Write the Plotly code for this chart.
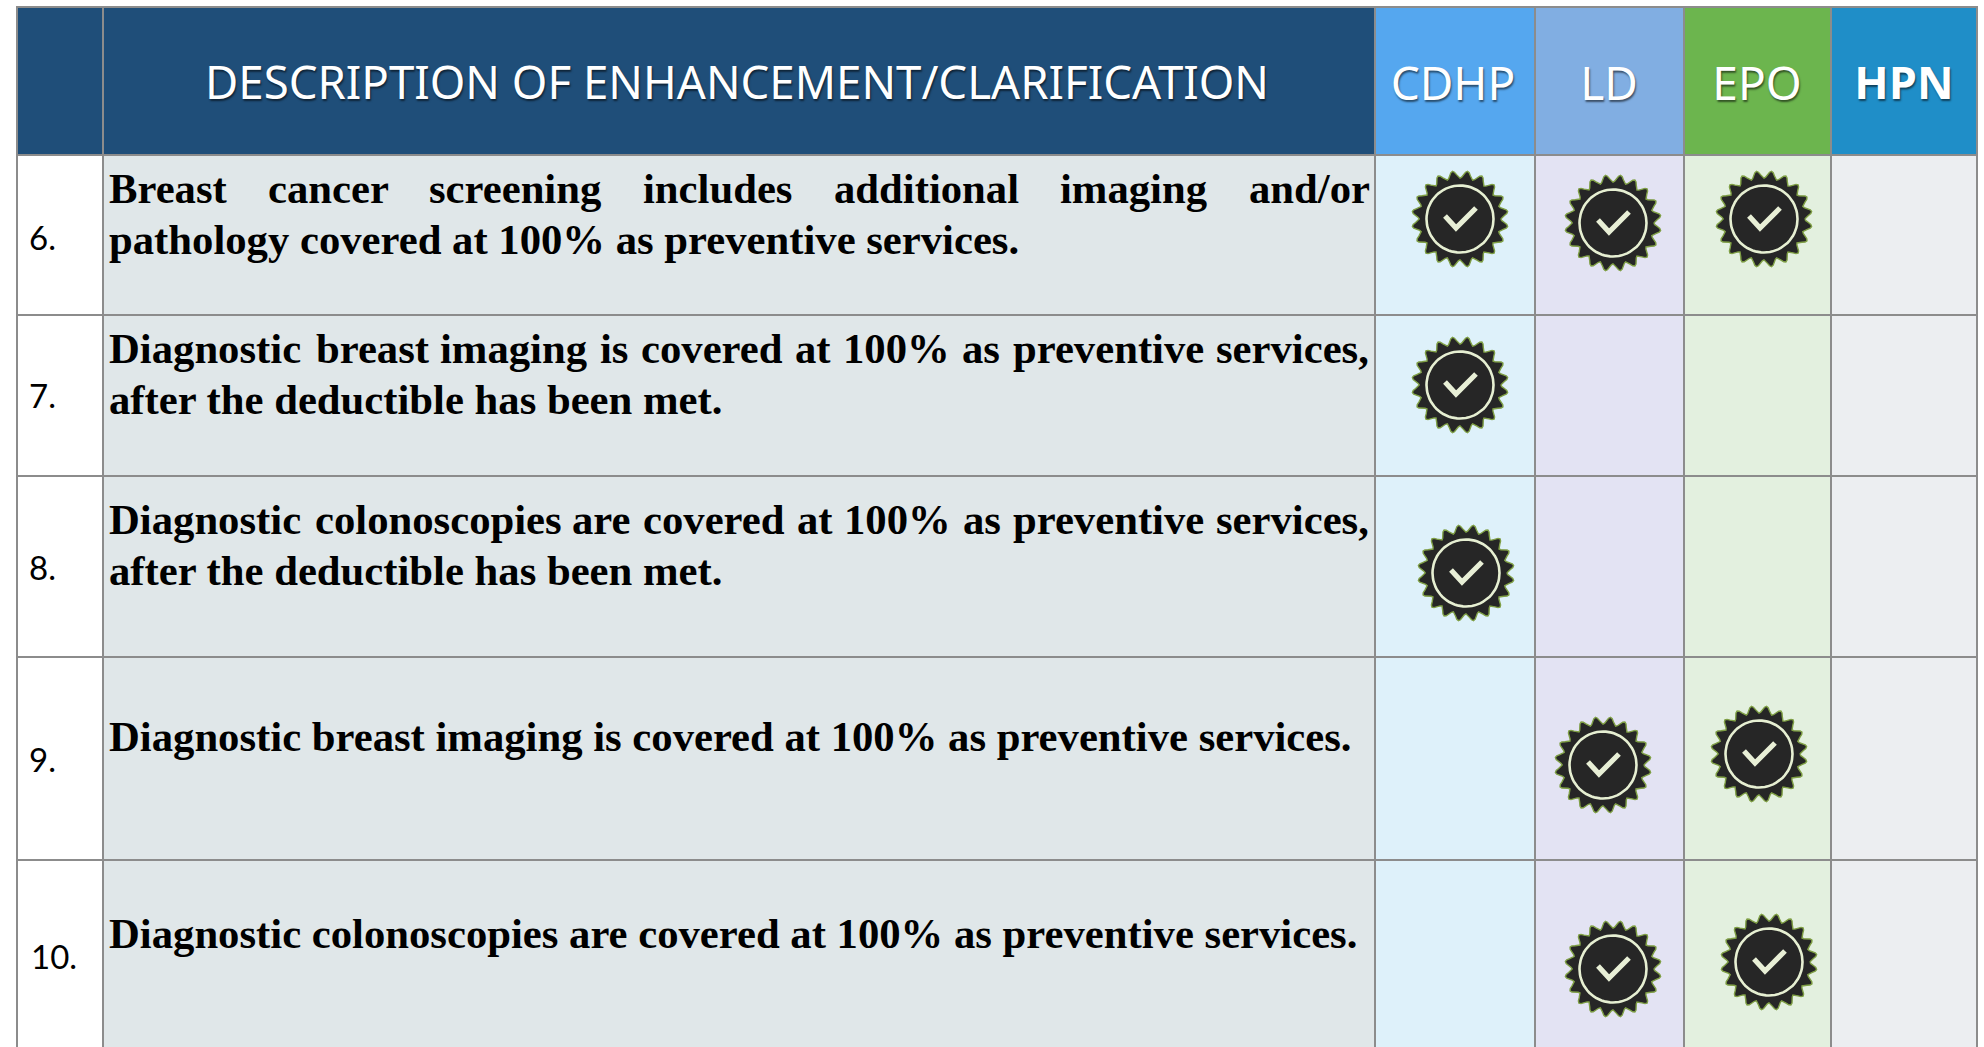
import math
import plotly.graph_objects as go

# ---------- data ----------
row_numbers = ["6.", "7.", "8.", "9.", "10."]
plans = ["CDHP", "LD", "EPO", "HPN"]
header_title = "DESCRIPTION OF ENHANCEMENT/CLARIFICATION"
desc_lines = [
    ["Breast cancer screening includes additional imaging and/or",
     "pathology covered at 100% as preventive services."],
    ["Diagnostic breast imaging is covered at 100% as preventive services,",
     "after the deductible has been met."],
    ["Diagnostic colonoscopies are covered at 100% as preventive services,",
     "after the deductible has been met."],
    ["Diagnostic breast imaging is covered at 100% as preventive services."],
    ["Diagnostic colonoscopies are covered at 100% as preventive services."],
]
coverage = [
    [1, 1, 1, 0],
    [1, 0, 0, 0],
    [1, 0, 0, 0],
    [0, 1, 1, 0],
    [0, 1, 1, 0],
]

# ---------- layout constants (page pixels) ----------
W, H = 1984, 1047
col_edges = [17, 103, 1375, 1535, 1684, 1831, 1977]
row_edges = [7, 155, 315, 476, 657, 860, 1060]
GRID = "#8c8c8c"
header_fills = ["#1f4e79", "#1f4e79", "#55a7ef", "#81aee2", "#6cb54e", "#1f8ec8"]
body_fills = ["#ffffff", "#e0e7e9", "#def1fa", "#e3e3f3", "#e3f0df", "#eceef1"]
number_y = [242, 400, 572, 764, 961]
number_x = [29, 29, 29, 29, 31]
line_y = [[192, 243], [352, 403], [523, 574], [740], [937]]
TEXT_X = 109
# justified first lines: left edge of each word, by (row, line)
justified_x = {
    (0, 0): [109, 268, 429, 643, 834, 1060, 1249],
    (1, 0): [109, 316, 440, 600, 641, 795, 843, 962, 1013, 1216],
    (2, 0): [109, 315, 572, 643, 797, 844, 963, 1013, 1216],
}
badge_centres = {
    (0, 0): (1460, 219), (0, 1): (1613, 223), (0, 2): (1764, 219),
    (1, 0): (1460, 385),
    (2, 0): (1466, 573),
    (3, 1): (1603, 765), (3, 2): (1759, 754),
    (4, 1): (1613, 969), (4, 2): (1769, 962),
}
plan_x = [1453, 1609, 1757, 1904]
HEADER_Y = 88
BODY_SIZE = 42.7
SHADOW = "1px 2px 2px rgba(0,0,0,0.55)"

fig = go.Figure()
shapes = []


def rect(x0, y0, x1, y1, fill):
    shapes.append(dict(type="rect", xref="x", yref="y", x0=x0, y0=y0, x1=x1, y1=y1,
                       fillcolor=fill, line=dict(color=GRID, width=2), layer="below"))


for j in range(len(col_edges) - 1):
    rect(col_edges[j], row_edges[0], col_edges[j + 1], row_edges[1], header_fills[j])
    for i in range(len(row_numbers)):
        rect(col_edges[j], row_edges[i + 1], col_edges[j + 1], row_edges[i + 2], body_fills[j])


def text(xs, ys, labels, size, family, color="#000000", weight="normal", shadow="none", pos="middle right"):
    fig.add_trace(go.Scatter(x=xs, y=ys, text=labels, mode="text", textposition=pos, cliponaxis=False,
                             hoverinfo="skip", showlegend=False,
                             textfont=dict(size=size, family=family, color=color, weight=weight, shadow=shadow)))


# header text
text([737], [HEADER_Y], [header_title], 45.6, "Noto Sans", "#ffffff", shadow=SHADOW, pos="middle center")
text(plan_x[:3], [HEADER_Y] * 3, plans[:3], 46, "Noto Sans", "#ffffff", shadow=SHADOW, pos="middle center")
text(plan_x[3:], [HEADER_Y], plans[3:], 45, "Open Sans", "#ffffff", weight="bold", shadow=SHADOW, pos="middle center")

# row numbers
text(number_x, number_y, row_numbers, 33, "Lato")

# descriptions
SERIF = "Liberation Serif"
for i, lines in enumerate(desc_lines):
    for k, line in enumerate(lines):
        if (i, k) in justified_x:
            words = line.split(" ")
            text(justified_x[(i, k)], [line_y[i][k]] * len(words), words, BODY_SIZE, SERIF, weight="bold")
        else:
            text([TEXT_X], [line_y[i][k]], [line], BODY_SIZE, SERIF, weight="bold")


# badges: scalloped seal, ring and check mark
def seal(cx, cy):
    n = 20
    xs, ys = [], []
    for a in range(n * 8 + 1):
        t = 2 * math.pi * a / (n * 8)
        r = 44.5 + 3.7 * math.cos(n * t + math.pi)
        xs.append(cx + r * math.cos(t))
        ys.append(cy + r * math.sin(t))
    return xs, ys


for (i, j), (cx, cy) in badge_centres.items():
    if not coverage[i][j]:
        continue
    xs, ys = seal(cx, cy)
    fig.add_trace(go.Scatter(x=xs, y=ys, mode="lines", fill="toself", fillcolor="#262626",
                             line=dict(color="#7f9f45", width=1.4), hoverinfo="skip", showlegend=False))
    rx = [cx + 33.5 * math.cos(2 * math.pi * a / 72) for a in range(73)]
    ry = [cy + 33.5 * math.sin(2 * math.pi * a / 72) for a in range(73)]
    fig.add_trace(go.Scatter(x=rx, y=ry, mode="lines", line=dict(color="#e6efd2", width=2.6),
                             hoverinfo="skip", showlegend=False))
    fig.add_trace(go.Scatter(x=[cx - 15, cx - 4, cx + 16], y=[cy - 3, cy + 9, cy - 11], mode="lines",
                             line=dict(color="#e8efd6", width=5.2), hoverinfo="skip", showlegend=False))

fig.update_layout(
    width=W, height=H, margin=dict(l=0, r=0, t=0, b=0),
    paper_bgcolor="#ffffff", plot_bgcolor="#ffffff", shapes=shapes,
    xaxis=dict(range=[0, W], visible=False, fixedrange=True),
    yaxis=dict(range=[H, 0], visible=False, fixedrange=True),
)
fig.write_html("out.html", config=dict(displayModeBar=False),
               post_script="document.body.style.margin='0';document.body.style.overflow='hidden';")
